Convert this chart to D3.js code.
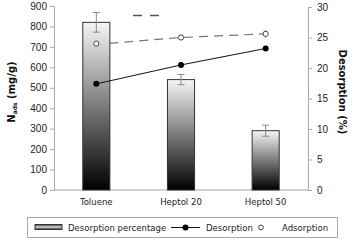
<!DOCTYPE html>
<html>
<head>
<meta charset="utf-8">
<script src="https://cdn.jsdelivr.net/npm/d3@7"></script>
<style>
  body { margin: 0; background: #fff; }
  svg { display: block; font-family: "DejaVu Sans", sans-serif; }
  .cond { font-family: "DejaVu Sans Condensed", "DejaVu Sans", sans-serif; }
</style>
</head>
<body>
<div id="chart"></div>
<script>
// data
const categories = ["Toluene", "Heptol 20", "Heptol 50"];
const nAds = [820, 540, 290];          // bars, left axis (mg/g)
const nAdsErr = [48, 25, 27];
const desorption = [17.4, 20.5, 23.2]; // right axis (%)
const adsorption = [24.0, 25.0, 25.6];
const leftTicks = [0, 100, 200, 300, 400, 500, 600, 700, 800, 900];
const rightTicks = [0, 5, 10, 15, 20, 25, 30];

const width = 355, height = 240;
const plot = {left: 54, right: 308, top: 6, bottom: 190};

const svg = d3.select("#chart").append("svg")
  .attr("width", width).attr("height", height);

// gradient for the bars
const defs = svg.append("defs");
const grad = defs.append("linearGradient").attr("id", "barGrad")
  .attr("x1", 0).attr("y1", 0).attr("x2", 0).attr("y2", 1);
grad.append("stop").attr("offset", "0%").attr("stop-color", "#f6f6f6");
grad.append("stop").attr("offset", "100%").attr("stop-color", "#000");
const legGrad = defs.append("linearGradient").attr("id", "legGrad")
  .attr("x1", 0).attr("y1", 0).attr("x2", 0).attr("y2", 1);
legGrad.append("stop").attr("offset", "0%").attr("stop-color", "#222");
legGrad.append("stop").attr("offset", "50%").attr("stop-color", "#ddd");
legGrad.append("stop").attr("offset", "100%").attr("stop-color", "#222");

const x = d3.scaleBand().domain(categories).range([plot.left, plot.right]).paddingInner(0.68).paddingOuter(0.34);
const y = d3.scaleLinear().domain([0, 900]).range([plot.bottom, plot.top]);
const y2 = d3.scaleLinear().domain([0, 30]).range([plot.bottom, 7]);

// axes
const leftAxis = svg.append("g").attr("transform", `translate(${plot.left},0)`)
  .call(d3.axisLeft(y).tickValues(leftTicks).tickSize(4).tickPadding(3));
const rightAxis = svg.append("g").attr("transform", `translate(${plot.right},0)`)
  .call(d3.axisRight(y2).tickValues(rightTicks).tickSize(4).tickPadding(5));
[leftAxis, rightAxis].forEach(a => {
  a.select(".domain").attr("stroke", "#aaa");
  a.selectAll(".tick line").attr("stroke", "#aaa");
  a.selectAll("text").attr("fill", "#222").style("font-size", "10px");
});

// baseline
svg.append("line")
  .attr("x1", plot.left).attr("x2", plot.right).attr("y1", plot.bottom).attr("y2", plot.bottom)
  .attr("stroke", "#aaa");

// category labels
svg.selectAll(".cat").data(categories).join("text")
  .attr("class", "cat cond")
  .attr("x", d => x(d) + x.bandwidth() / 2)
  .attr("y", 205)
  .attr("text-anchor", "middle")
  .style("font-size", "9.5px")
  .attr("fill", "#222")
  .text(d => d);

// bars
svg.selectAll(".bar").data(nAds).join("rect")
  .attr("class", "bar")
  .attr("x", (d, i) => x(categories[i]))
  .attr("y", d => y(d))
  .attr("width", x.bandwidth())
  .attr("height", d => plot.bottom - y(d))
  .attr("fill", "url(#barGrad)")
  .attr("stroke", "#333").attr("stroke-width", 1);

const cx = i => x(categories[i]) + x.bandwidth() / 2;

// error bars
const eb = svg.selectAll(".err").data(nAds).join("g").attr("class", "err")
  .attr("stroke", "#888").attr("stroke-width", 1);
eb.append("line")
  .attr("x1", (d, i) => cx(i)).attr("x2", (d, i) => cx(i))
  .attr("y1", (d, i) => y(d - nAdsErr[i]))
  .attr("y2", (d, i) => y(d + nAdsErr[i]));
[-1, 1].forEach(s => {
  eb.append("line")
    .attr("x1", (d, i) => cx(i) - 3.5)
    .attr("x2", (d, i) => cx(i) + 3.5)
    .attr("y1", (d, i) => y(d + s * nAdsErr[i]))
    .attr("y2", (d, i) => y(d + s * nAdsErr[i]));
});

// adsorption dashed line (gap around first point)
const adsLine = d3.line().x(d => d[0]).y(d => d[1]);
const adsPts = adsorption.map((d, i) => [cx(i), y2(d)]);
adsPts[0] = [adsPts[0][0] + 13, y2(adsorption[0]) - 0.3];
svg.append("path").attr("d", adsLine(adsPts))
  .attr("fill", "none").attr("stroke", "#777").attr("stroke-width", 1.2)
  .attr("stroke-dasharray", "9,6");

// stray dashes above
svg.append("line").attr("x1", 133).attr("x2", 160).attr("y1", 15.5).attr("y2", 15.5)
  .attr("stroke", "#555").attr("stroke-width", 1.3).attr("stroke-dasharray", "9,8");

// desorption solid line
svg.append("path")
  .attr("d", d3.line().x((d, i) => cx(i)).y(d => y2(d))(desorption))
  .attr("fill", "none").attr("stroke", "#111").attr("stroke-width", 1);

svg.selectAll(".des").data(desorption).join("circle")
  .attr("class", "des")
  .attr("cx", (d, i) => cx(i)).attr("cy", d => y2(d)).attr("r", 3)
  .attr("fill", "#000");

// small error bar on last adsorption point
svg.append("line").attr("x1", cx(2)).attr("x2", cx(2))
  .attr("y1", y2(adsorption[2]) - 4).attr("y2", y2(adsorption[2]) + 4)
  .attr("stroke", "#888");
svg.selectAll(".ads").data(adsorption).join("circle")
  .attr("class", "ads")
  .attr("cx", (d, i) => cx(i)).attr("cy", d => y2(d)).attr("r", 2.6)
  .attr("fill", "#fff").attr("stroke", "#444").attr("stroke-width", 1);

// axis titles
const lt = svg.append("text")
  .attr("transform", "translate(15,92) rotate(-90)")
  .attr("text-anchor", "middle")
  .style("font-size", "10px").style("font-weight", "bold")
  .attr("fill", "#111");
lt.append("tspan").text("N");
lt.append("tspan").text("ads").style("font-size", "6px").attr("dy", 2);
lt.append("tspan").text(" (mg/g)").attr("dy", -2);

svg.append("text")
  .attr("transform", "translate(339,92) rotate(90)")
  .attr("text-anchor", "middle")
  .style("font-size", "10px").style("font-weight", "bold")
  .attr("fill", "#111")
  .text("Desorption (%)");

// legend
const lg = svg.append("g");
lg.append("rect").attr("x", 27.5).attr("y", 217.5).attr("width", 310).attr("height", 20)
  .attr("fill", "#fff").attr("stroke", "#aaa");
lg.append("rect").attr("x", 35).attr("y", 224.5).attr("width", 27).attr("height", 5)
  .attr("fill", "url(#legGrad)").attr("stroke", "#333");
lg.append("line").attr("x1", 171).attr("x2", 200).attr("y1", 227.5).attr("y2", 227.5)
  .attr("stroke", "#111");
lg.append("circle").attr("cx", 185.5).attr("cy", 227.5).attr("r", 3).attr("fill", "#000");
lg.append("circle").attr("cx", 261).attr("cy", 227.5).attr("r", 2.4)
  .attr("fill", "#fff").attr("stroke", "#444");
const legText = [["Desorption percentage", 68], ["Desorption", 206], ["Adsorption", 282]];
lg.selectAll(".lt").data(legText).join("text")
  .attr("class", "lt cond")
  .attr("x", d => d[1]).attr("y", 231)
  .style("font-size", "9.5px").attr("fill", "#222")
  .text(d => d[0]);
</script>
</body>
</html>
